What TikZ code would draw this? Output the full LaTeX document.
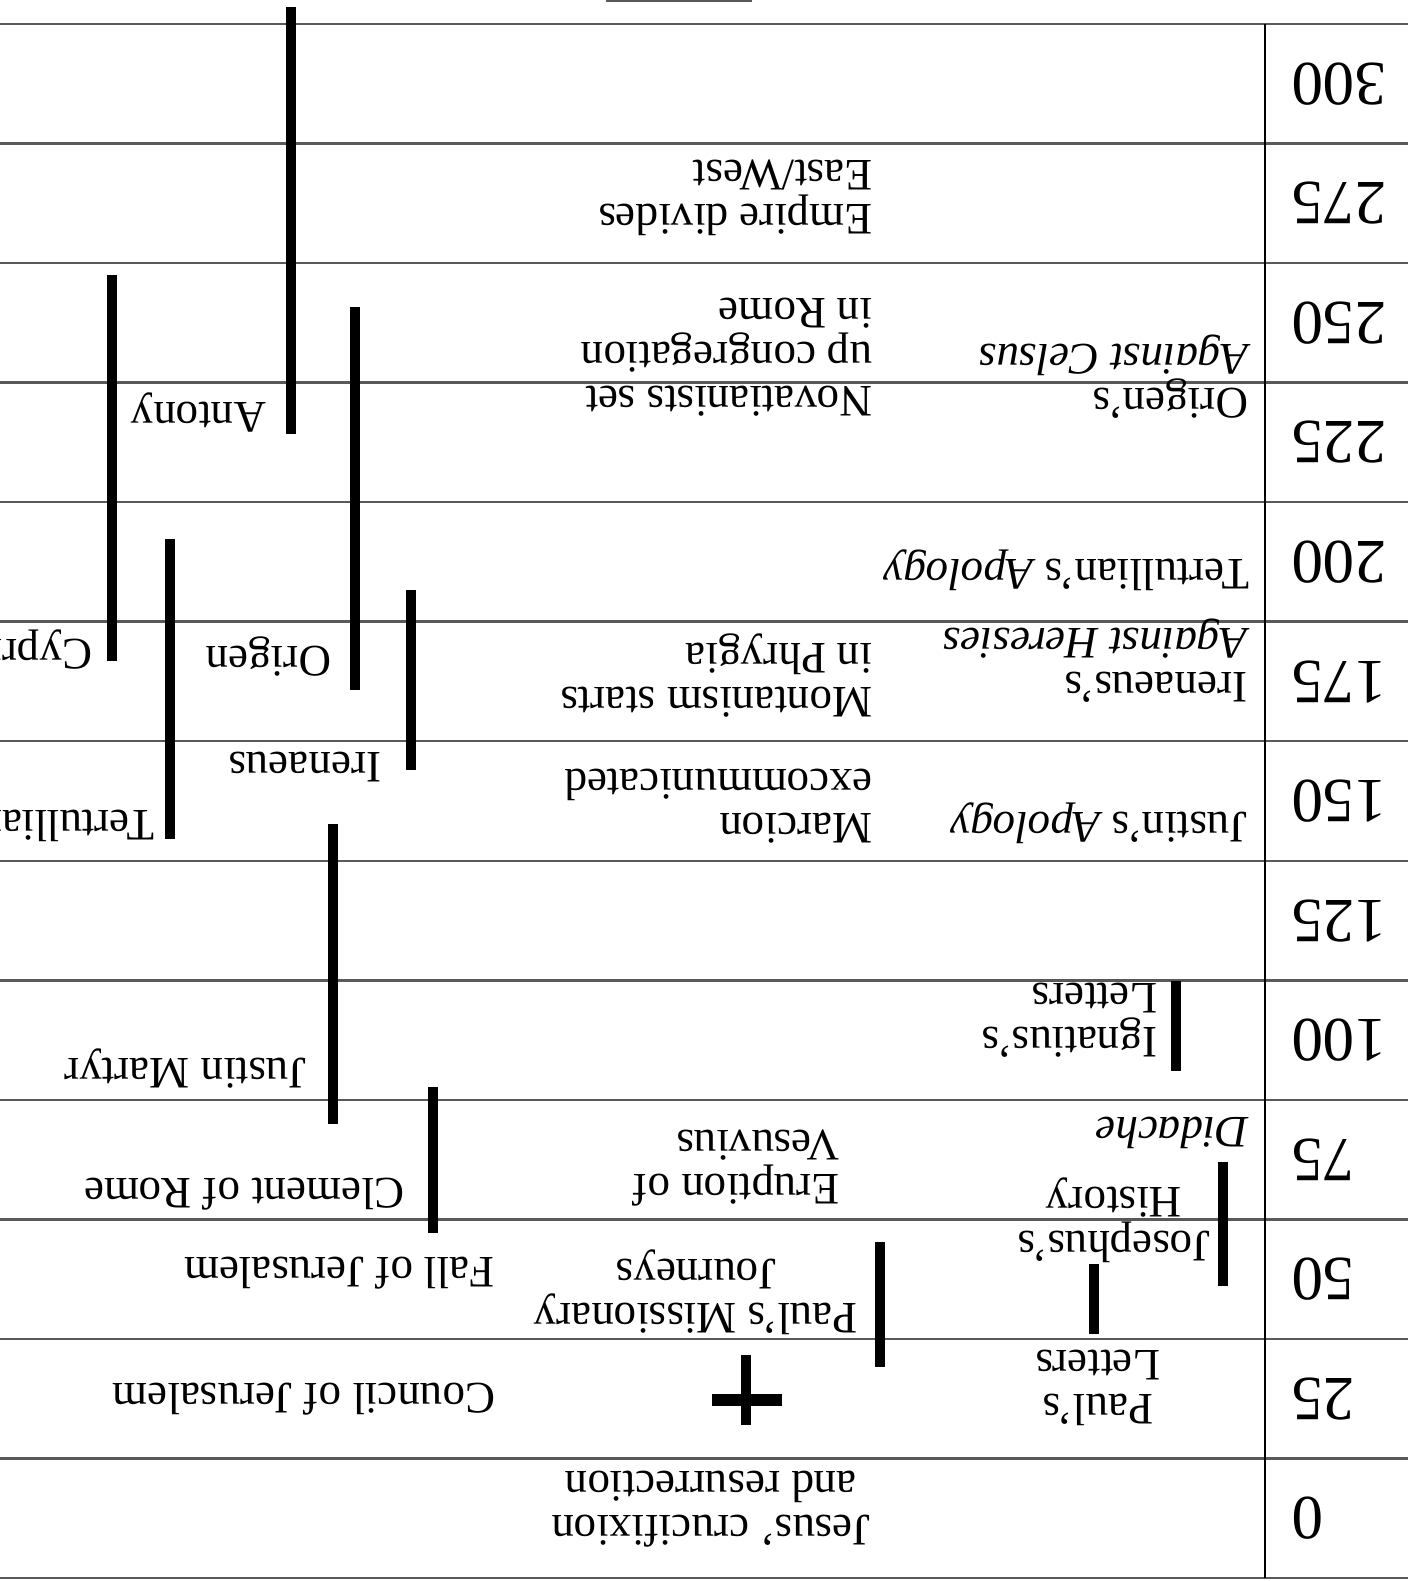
\documentclass[tikz,border=0pt]{standalone}
\usepackage{fontspec}
\setmainfont{Liberation Serif}

\begin{document}
\begin{tikzpicture}[x=0.01cm, y=-0.01cm,
    rule/.style={black!65, line width=0.7pt},
    bar/.style={line width=3pt},
    yr/.style={rotate=180, inner sep=0pt, anchor=east, font=\fontsize{17.9}{20}\selectfont},
    evt/.style={rotate=180, inner sep=0pt, anchor=north west, align=left, font=\fontsize{12.8}{12.5}\selectfont},
    evtc/.style={evt, anchor=north, align=center}]
  \clip (0,0) rectangle (1408,1581);

  % one row for every 25 years
  \foreach \i in {0,...,13}
    \draw[rule] (0,24+119.54*\i) -- (1408,24+119.54*\i);
  \draw[line width=0.6pt] (1265,24) -- (1265,1578);
  \draw[rule] (606,1) -- (752,1);

  \foreach \yr [count=\i from 0] in {300,275,...,0}
    \node[yr] (y\yr) at (1291,83.8+119.54*\i) {\yr};

  % writings
  \node[evt] (origenw) at (1249,419) {Origen's\\\emph{Against Celsus}};
  \node[evt] (tertw) at (1250,591) {Tertullian's \emph{Apology}};
  \node[evt] (irenw) at (1248,703) {Irenaeus's\\\emph{Against Heresies}};
  \node[evt] (justw) at (1248,844) {Justin's \emph{Apology}};
  \node[evt] (ignat) at (1158,1058) {Ignatius's\\Letters};
  \node[evt] (didache) at (1249,1149) {\emph{Didache}};
  \node[evtc] (joseph) at (1114,1263) {Josephus's\\History};
  \node[evtc] (paulw) at (1098,1426) {Paul's\\Letters};

  % events
  \node[evt] (empire) at (873,236) {Empire divides\\East/West};
  \node[evt] (novat) at (873,417) {Novatianists set\\up congregation\\in Rome};
  \node[evt] (montan) at (873,718) {Montanism starts\\in Phrygia};
  \node[evt] (marcion) at (873,844) {Marcion\\excommunicated};
  \node[evt] (vesuv) at (840,1207) {Eruption of\\Vesuvius};
  \node[evtc] (journeys) at (696,1335) {Paul's Missionary\\Journeys};
  \node[evtc] (jesus) at (711,1548) {Jesus' crucifixion\\and resurrection};
  \node[evt] (council) at (496,1416) {Council of Jerusalem};
  \node[evt] (fall) at (495,1290) {Fall of Jerusalem};

  % people
  \node[evt] (clement) at (405,1211) {Clement of Rome};
  \node[evt] (justin) at (307,1089) {Justin Martyr};
  \node[evt] (irenaeus) at (382,783) {Irenaeus};
  \node[evt] (tertullian) at (155,842) {Tertullian};
  \node[evt] (origen) at (332,677) {Origen};
  \node[evt] (cyprian) at (93,670) {Cyprian};
  \node[evt] (antony) at (267,433) {Antony};

  % life spans and periods
  \draw[bar] (291,7) -- (291,434);
  \draw[bar] (355,307) -- (355,690);
  \draw[bar] (112,275) -- (112,661);
  \draw[bar] (170,539) -- (170,839);
  \draw[bar] (411,590) -- (411,770);
  \draw[bar] (333,824) -- (333,1124);
  \draw[bar] (433,1087) -- (433,1233);
  \draw[bar] (880,1242) -- (880,1367);
  \draw[bar] (1223,1162) -- (1223,1286);
  \draw[bar] (1094,1264) -- (1094,1334);
  \draw[bar] (1176,981) -- (1176,1071);

  % the cross
  \draw[line width=3.1pt] (746,1355) -- (746,1425);
  \draw[line width=3.4pt] (712,1400) -- (782,1400);
\end{tikzpicture}
\end{document}
